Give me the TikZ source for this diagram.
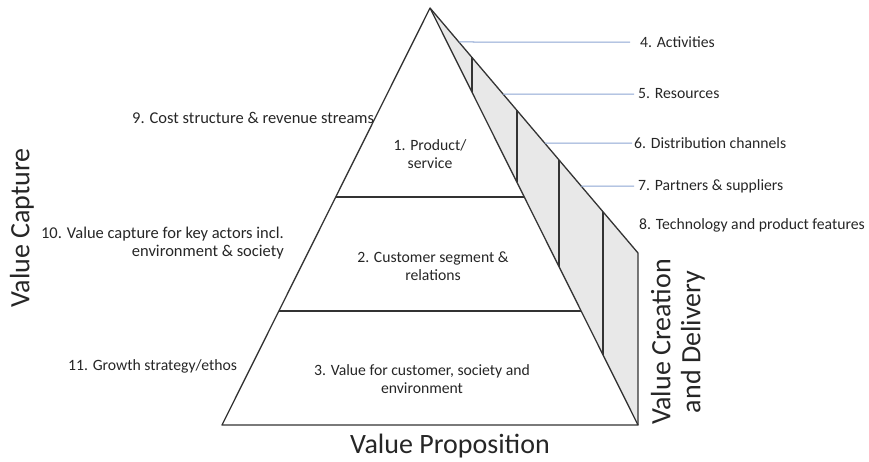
\documentclass[tikz,border=0pt]{standalone}
\usepackage{fontspec}
\setmainfont{Carlito}
\usetikzlibrary{calc}
\definecolor{leadc}{RGB}{140,165,210}
\begin{document}
\begin{tikzpicture}[x=1pt,y=-1pt,
  edge/.style={draw=black!80,line width=1.3pt,line join=round},
  leader/.style={draw=leadc,line width=1pt},
  lbl/.style={font=\fontsize{16.5}{18}\selectfont,text=black!85,inner sep=0pt},
  rlbl/.style={font=\fontsize{15.7}{18}\selectfont,text=black!85,inner sep=0pt},
  big/.style={font=\fontsize{28}{30}\selectfont,text=black!85,inner sep=0pt}]
\useasboundingbox (0,0) rectangle (869,461);
% key points
\coordinate (A) at (430,8);
\coordinate (BL) at (222,425);
\coordinate (BR) at (638,425);
\coordinate (TR) at (638,253);
% side panel
\fill[black!9] (A) -- (TR) -- (BR) -- cycle;
\draw[edge] (A) -- (TR) -- (BR);
% dividers in side panel
\foreach \x [count=\i] in {472,517,559,603}{
  \coordinate (o\i) at ($(A)!{(\x-430)/208}!(TR)$);
  \coordinate (n\i) at ($(A)!{(\x-430)/208}!(BR)$);
  \draw[edge] (o\i) -- (n\i);
}
% front triangle
\draw[edge,fill=white] (A) -- (BL) -- (BR) -- cycle;
\coordinate (h1l) at ($(A)!{189/417}!(BL)$);
\coordinate (h1r) at ($(A)!{189/417}!(BR)$);
\coordinate (h2l) at ($(A)!{303/417}!(BL)$);
\coordinate (h2r) at ($(A)!{303/417}!(BR)$);
\draw[edge] (h1l) -- (h1r);
\draw[edge] (h2l) -- (h2r);
% inner labels
\node[rlbl,align=center] (p1) at (430,154) {1. Product/\\service};
\node[rlbl,align=center] (p2) at (433,266) {2. Customer segment \&\\relations};
\node[rlbl,align=center] (p3) at (422,379) {3. Value for customer, society and\\environment};
% right labels with leaders
\node[rlbl,anchor=west] (l4) at (640,42) {4. Activities};
\node[rlbl,anchor=west] (l5) at (638,94) {5. Resources};
\node[rlbl,anchor=west] (l6) at (634,143) {6. Distribution channels};
\node[rlbl,anchor=west] (l7) at (638,186) {7. Partners \& suppliers};
\node[rlbl,anchor=west] (l8) at (639,225) {8. Technology and product features};
\coordinate (e4) at ($(A)!{34/245}!(TR)$);
\coordinate (e5) at ($(A)!{86/245}!(TR)$);
\coordinate (e6) at ($(A)!{135/245}!(TR)$);
\coordinate (e7) at ($(A)!{178/245}!(TR)$);
\draw[leader] (e4) -- ([xshift=-10pt]l4.west);
\draw[leader] (e5) -- ([xshift=-4pt]l5.west);
\draw[leader] (e6) -- ([xshift=-2pt]l6.west);
\draw[leader] (e7) -- ([xshift=-4pt]l7.west);
% left labels
\node[lbl,anchor=west] (l9) at (132,118) {9. Cost structure \& revenue streams};
\node[lbl,align=right,anchor=east] (l10) at (284,243) {10. Value capture for key actors incl.\\environment \& society};
\node[rlbl,anchor=west] (l11) at (68,366) {11. Growth strategy/ethos};
% big labels
\node[big,rotate=90] (vc) at (22,228) {Value Capture};
\node[big] (vp) at (450,446) {Value Proposition};
\node[big,rotate=90,align=center] (vcd) at (678,342) {Value Creation\\and Delivery};
\end{tikzpicture}
\end{document}
